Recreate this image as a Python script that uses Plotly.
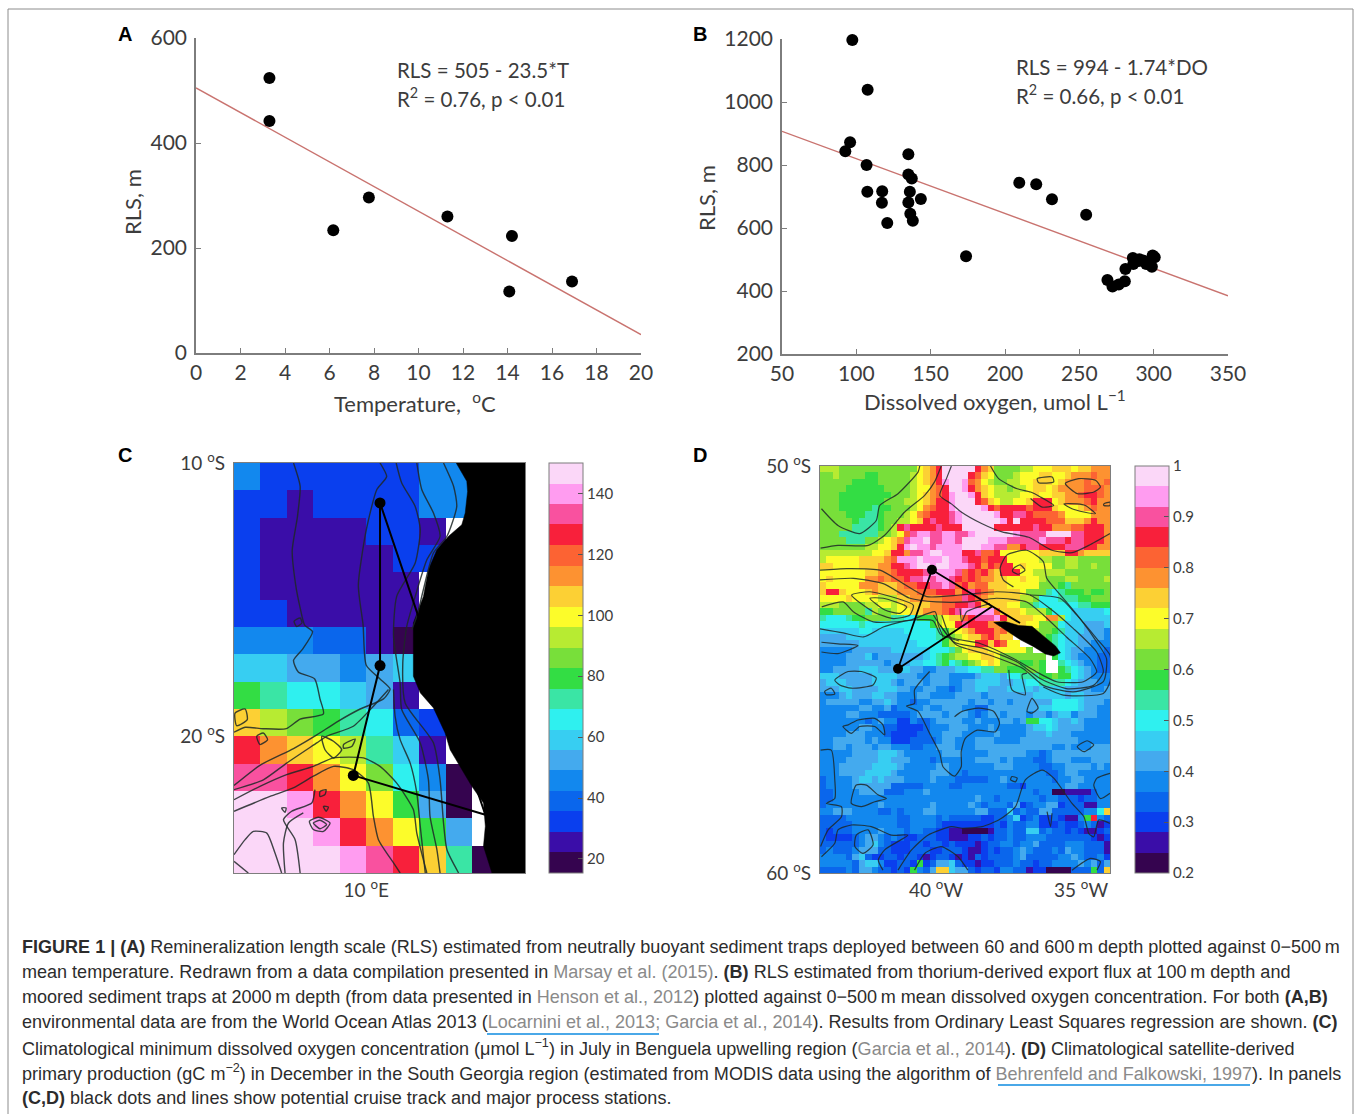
import plotly.graph_objects as go

W, H = 1358, 1114

# ---------- Panel A / B data ----------
temp_T = [3.3, 3.3, 6.17, 7.77, 11.3, 14.2, 14.08, 16.9]
temp_RLS = [524, 442, 234, 296, 260, 223, 117, 136]
fit_T = [0, 20]
fit_T_RLS = [505, 35]

do_DO = [97.3, 107.6, 95.8, 92.6, 106.9, 107.4, 117.4, 117.2, 120.8, 135, 135, 137.3, 136, 135, 136.3, 138, 143.4,
         173.8, 209.6, 221, 231.6, 254.6, 268.9, 272.3, 276.5, 280.6, 281, 286, 286.3, 290, 290.4, 292.9, 295,
         297.3, 298.8, 299.3, 300.7]
do_RLS = [1197, 1039, 872, 844, 800, 715, 717, 680, 616, 834, 770, 757, 715, 681, 645, 623, 692,
          510, 744, 739, 691, 642, 435, 414, 421, 431, 470, 505, 486, 495, 501, 497, 486,
          493, 477, 513, 507]
fit_DO = [50, 350]
fit_DO_RLS = [907, 385]

# ---------- colour levels (a = lowest ... t = highest) ----------
LEVEL_KEYS = "abcdefghijklmnopqrst"
LEVEL_COLORS = ["#35044F", "#3A0DA8", "#0A3FEE", "#0A66EC", "#1288EE", "#44AAEE", "#37CEF2", "#2FF0EF", "#3AE5A5", "#33DD44",
                "#78DF3A", "#B7EB32", "#FCFC2A", "#FCD034", "#FD9231", "#FC6333", "#F8203B", "#F9519F", "#FF9CF0", "#FBD7F8"]

# ---------- Panel C: oxygen on a 1 degree grid, one letter per cell, '.' = no data ----------
C_ROWS = ["eccccccee..", "ccbccccee..", "cbbbbccb...", "cbbbbbcc...", "cbbbbbb....", "ccbbbbb....",
          "eeeddba....", "ggffefg....", "jihhgfb....", "nlkjihdc...", "qonmligb...", "rrqomkhea..",
          "ttsqomjfa..", "tttsqomjf..", "ttttsrqnia."]
C_TICKS = [20, 40, 60, 80, 100, 120, 140]
C_LAND_LON = [13.40, 13.80, 13.83, 13.74, 13.61, 13.11, 12.67, 12.35, 12.16, 11.78, 11.78, 12.04, 12.54, 12.98, 13.17,
              13.55, 13.99, 14.43, 14.50, 14.43, 14.75, 16, 16]
C_LAND_LAT = [-10, -10.67, -11.04, -11.83, -12.26, -12.68, -13.17, -13.90, -14.88, -15.85, -17.80, -18.41, -18.96, -19.88,
              -20.49, -21.10, -21.83, -22.44, -23.29, -24.02, -25, -25, -10]
C_TRACK_LON = [10.52, 10.52, 9.51, 14.50, 10.52]
C_TRACK_LAT = [-11.46, -17.41, -21.43, -22.87, -11.46]
C_STATION_LON = [10.52, 10.52, 9.51]
C_STATION_LAT = [-11.46, -17.41, -21.43]
C_CONTOURS = [
    ([7.25, 7.5, 7.4, 7.2, 7.33, 7.5, 7.67, 7.97, 7.6, 7.25, 7.43, 8.05, 8.25, 8.38, 7.5, 6.98, 6.1, 5.42, 5],
     [-10, -10.85, -11.95, -13.2, -14.45, -15.3, -15.93, -16.17, -16.8, -17.22, -17.65, -17.9, -18.63, -19.18, -19.37, -19.72, -19.72, -19.67, -19.85]),
    ([10.52, 10.77, 10.4, 10, 9.7, 9.88, 10, 10.52, 10.9, 10.65, 9.77, 8.88, 8.13, 7.25, 5.98, 5],
     [-10, -10.5, -10.97, -12.45, -14.47, -15.93, -17.4, -17.9, -18.27, -18.63, -19, -19.48, -19.95, -20.45, -21.06, -21.8]),
    ([11.13, 11.34, 11.85, 12.04, 11.85, 11.15, 11.03, 11.28, 11.34, 12.04, 12.35, 12.41, 12.67, 12.79],
     [-10, -10.73, -11.59, -12.44, -13.66, -14.88, -16.34, -18.05, -19.02, -20.24, -21.59, -22.93, -24.15, -25]),
    ([11.91, 12.1, 12.54, 12.79, 12.29, 11.85, 11.53, 11.38, 11.47, 12.54, 12.79, 12.92, 13.05, 13.49],
     [-10, -10.98, -11.83, -12.68, -13.54, -14.88, -15.98, -17.32, -18.78, -20.24, -21.59, -23.17, -24.15, -25]),
    ([12.92, 13.3, 13.42, 13.05, 12.54, 12.16, 11.91, 11.72],
     [-10, -10.85, -11.59, -12.68, -13.29, -14.63, -15.61, -16.1]),
    ([11.03, 11.09, 11.28, 11.66, 11.91, 12.04, 12.23], [-18.29, -19.27, -20.12, -20.98, -22.07, -23.29, -25]),
    ([10.84, 10.27, 9.51, 8.5, 8.13, 6.99, 6.11, 5], [-18.29, -18.9, -19.63, -20, -20.24, -20.98, -21.59, -21.95]),
    ([5, 5.98, 6.99, 8, 8.76, 9.89, 10.52, 11.15, 11.78, 11.91, 12.29],
     [-22.32, -21.83, -21.4, -21.1, -20.79, -20.79, -21.1, -21.71, -22.68, -23.54, -25]),
    ([5, 6.36, 7.24, 8, 8.76, 9.51, 10.08, 10.27, 10.46, 11.03, 11.28],
     [-22.74, -22.2, -21.89, -21.46, -21.1, -21.22, -21.71, -22.93, -23.78, -24.63, -25]),
    ([7.5, 7.31, 6.87, 7.18, 7.94, 8.06], [-25, -23.78, -23.05, -22.74, -22.44, -21.95]),
    ([6.93, 6.87, 7.06, 7.62], [-25, -23.9, -23.17, -22.8]),
    ([5, 5.42, 5.73, 6.24, 6.55, 6.8], [-24.33, -23.78, -23.48, -23.54, -24.27, -25]),
    ([5, 5.54], [-24.57, -25]),
    ([5.04, 5.42, 5.5, 5.1, 5.04], [-19.15, -19, -19.39, -19.61, -19.15]),
    ([5.86, 6.11, 6.27, 5.98, 5.86], [-20, -19.88, -20.12, -20.3, -20]),
    ([8.32, 8.76, 9.07, 8.76, 8.44, 8.32], [-20, -20.18, -20.49, -20.79, -20.49, -20]),
    ([9.14, 9.58, 9.45, 9.14, 9.14], [-20.3, -20.1, -20.37, -20.43, -20.3]),
    ([7.85, 8.19, 8.63, 8.38, 8, 7.85], [-23.11, -22.96, -23.17, -23.48, -23.41, -23.11]),
    ([8, 8.25, 8.5, 8.25, 8], [-23.17, -23.07, -23.23, -23.38, -23.17]),
    ([7.27, 7.5, 7.57, 7.37, 7.27], [-15.79, -15.67, -15.85, -15.98, -15.79]),
    ([8.25, 8.48, 8.44, 8.25, 8.25], [-22.02, -21.95, -22.13, -22.2, -22.02]),
    ([8.38, 8.57, 8.48, 8.38], [-22.56, -22.59, -22.74, -22.56]),
    ([6.8, 6.97, 6.93, 6.8], [-22.62, -22.62, -22.78, -22.62]),
]

# ---------- Panel D: production, one letter per cell, '.' = no data ----------
D_ROWS = [
    "lllkk kkkkk kkkkk mnoqt ttttq onkkk kllmm mnnnm nnooo",
    "kklkk kkjjk kkkkl mnoqt tttqp nmkkk lmmmn nmmno oopoo",
    "kkkkk jjjjk kkkkl mnoqs ttspo mlkkl lmmnn nmnoo opoop",
    "kkkkj jjjjj kkkkl mmopq ttsqo nmllk llmnn mnooo opppo",
    "kkkjj jjjjj jkkkl mnopq sttsq nmlll lmmnm mnnoo pqqpo",
    "kkkjj jjjjj kkkll mnoqq stttq pnmll mmnqq qmnoo opqoo",
    "kkkjj jjjij jkkkl mopqq stttt sqpqq qqpqq qnmmm nopoo",
    "kkkkj jjiij kkklm opqqq rsttt ttsqq rrqpp ppomm mmooo",
    "kkkkk jiiij kkllm nqrqq rsttt tttsq tqqqq pppnn noqoo",
    "kkkkk iiiij klqrq qqqrq qqttt ttqqq qqqrq qooop pqqqo",
    "kkkii iiiik klmpr ssrrs srrst ttttt srrrr ttttr rqqqo",
    "kkkki iikkl mnors strrs srttt tsssr rrrrs rrrqr rqqqo",
    "kkkkk kkllm mnqst ssrss ssttt ssrro oqrrq qqqrr rqqoo",
    "lllll lllmm nqqor rstts ssqqr ppqmm mmmmn nnnqq onnnn",
    "lmmmm mnnnn opsss tssst ssrqq pqqqm mmmml lkkll kkkkk",
    "nnmmm mnnno oqqrs ttstt sssrq oqpqq mnmmm mkkll kklkk",
    "mmmmm mmnno opqqq qrsss srpqp qonqq qmmll lllkk kkkkk",
    "mnmmm mmoop oppqr rsrss rqpqp oonnm mnmml kkkll kkkkl",
    "nmmmm mooon nnopp qqrrs rpqop pnnnm mmmmk kkjik kkkkk",
    "nqqnm mmnon nnooo pppqq qoqrq ponnn nmkkk ihijj jkjjk",
    "mmmmn mmmml llnno oooop pprqp onnnn nllkh hhiii jjkkk",
    "lllkk kkllm mlmnn nnoop pqqrq nnnnm mkkih hhhhh iijjj",
    "jjkkk kkilk klmmn nooop qrsss sspnn nmlll jhhhg ggggh",
    "ihhhi jjkkk kiihh jjjlm nnpqr rrsqn nnnmm oolhg ggggg",
    "hhhhh hihhh hhhhh hhjlm mqrqq qoonn nnmmk kkhgg gfffg",
    "ggggg ghhgg ggghh hhhij lmnoq qqopn nmmlk kjigg gfffe",
    "ffffg ggggg ggggh hhhij klmnn pqonn .mmkk jihgg ffffe",
    "fffff fgggg ggggg hhhhj lmmmq qnqpm m..lk jihgg ffeee",
    "eeeee fffff fgggg gghhh ikmnn nmmmm mmk.. jihgf feeed",
    "eeeef ffgef fffff fghij kllmm nnmkk kkkkk .jhgf eeedd",
    "eeeef fffff efffg ghhij hijkl mnmkk kjjkj ..ihg feedd",
    "eefff fgggf ffggf feeff fgghh iikkj jjkkj ..jih gfedd",
    "gggff fffgg ggfff eefff eeeef gggfh hiiij jkjjh gfeee",
    "fgggf fffgg gfeff fefff eeffg gggff gghhi iiihg fffee",
    "fffgg ffffg ggffe effee deffg gfffg gggfg gggff ffeef",
    "eeefg fffgg ffeee ffeee effff effff fffgg gggfg gffff",
    "effff feeff gfeed eefff fffef feffe fffff fhhhh gfffe",
    "eeeee effee fdeee efeef ffeed dffff ffffg ghhhh gffee",
    "eeeef feeed dddde ffffe fffed effef ffeff efgge fffee",
    "eeeee eedef eecce ddeff ffeef eeeff efjjh hgffg feeee",
    "eeeee effee ddccc cdeee fffee efeee eefgg hgfff feeee",
    "eeeef ffeee dcccc ddeef ffeee eefee eefff gfffe eeeee",
    "eefff ffefe ecccd dddef feeef ffeee effff fffff eeeee",
    "eeffe fffef feeed deeff feeef fffff fffff feefe eefff",
    "eeeee ffffg ggfee eeeef ffeee effff ffeed effff fffff",
    "eeeef ffffg gfffe eedee eeeef fffef eeedd efffe eefff",
    "eeeff fffgg ggfee eeeff eeeee eefff eeeed deeff ffefe",
    "eeeff ffggg gfeee eefff eedee eeeee eeeee ddeff eeeee",
    "deeee fggfg fffee eefee edddd deefe eeeee edeef feeee",
    "deeee fffff fdddd deeee ddeee eeeed dceee eeeff eeeee",
    "ddeee effff dddee efeee eeeee eeeee eeede eaabb bbdee",
    "ddeee eeeee eeeee eeeee eeeef eedee eeeed eeddd cddee",
    "deeee eeeef eeeee eefee eeefe deeed fcdee ffcdd dbbee",
    "eefff eeeed dedee effee eeeef fdddg deddf fdddd deehn",
    "dddde eeeee eedde eeede ddddd ccdde gcdec cdcbb ejqed",
    "ddddd eeeee eedde eeedc ccccc ccdce ddeec ccdcc dedbc",
    "dcddd eeeef eeede eddcc bbaaa abdde ddggd eddcd cbbcd",
    "dcccc deffe dedcc dddcc bbbcc dcdde ddeee ddddd ddcbc",
    "ddddd defge dcccd dcddc dcccb cddee deefd dddee edddb",
    "deddd efffd dcccd ddccd ddcbb cdcdd efedd dedfe edddb",
    "eeeed fgdcc ddcdd cbcdd cbcbd cdddd efddd ddeef eddec",
    "eeeee dfgge ccddc jcdff gdccb ccddd eddcd deeee fefdf",
    "dddde dffed dcdcj edfnn gffdc ddcee ddbcc aaaad ddjdn",
]
D_TICKS = [0.2, 0.3, 0.4, 0.5, 0.6, 0.7, 0.8, 0.9, 1.0]
D_TICK_TEXT = ["0.2", "0.3", "0.4", "0.5", "0.6", "0.7", "0.8", "0.9", "1"]
D_LAND_LON = [-38.01, -37.61, -37.15, -36.69, -36.34, -35.88, -35.71, -35.94, -36.23, -36.63, -37.09, -37.49, -37.84, -38.01]
D_LAND_LAT = [-53.84, -53.82, -53.92, -53.94, -54.15, -54.42, -54.59, -54.67, -54.62, -54.44, -54.27, -54.08, -53.92, -53.84]
D_TRACK_LON = [-38.08, -41.31, -40.14, -37.1]
D_TRACK_LAT = [-53.46, -54.98, -52.55, -53.86]
D_STATION_LON = [-41.31, -40.14]
D_STATION_LAT = [-54.98, -52.55]
D_CONTOURS = [
    ([-43.95, -43.38, -42.63, -42.06, -41.94, -41.31, -40.62, -40.56], [-51.05, -51.46, -51.66, -51.34, -50.97, -50.68, -50.15, -50]),
    ([-43.98, -43.38, -42.34, -41.77, -41.08, -40.39, -40.05, -39.82], [-52.02, -51.95, -51.95, -51.7, -51.13, -50.72, -50.39, -50]),
    ([-39.47, -39.64, -39.87, -39.47, -39.13, -38.41, -37.72, -36.8, -36, -35.31, -34.73, -34],
     [-50, -50.31, -50.72, -50.93, -51.13, -51.42, -51.62, -51.75, -52.07, -52.13, -51.95, -51.66]),
    ([-38.12, -37.84, -37.2, -36.74, -36.4, -35.94, -36.34, -36.74], [-50, -50.31, -50.56, -50.64, -50.76, -50.97, -51.01, -50.8]),
    ([-36.51, -35.99, -35.94, -36.46, -36.51], [-50.31, -50.27, -50.39, -50.41, -50.31]),
    ([-35.54, -35.08, -34.5, -34.33, -34.56, -35.13, -35.54], [-50.43, -50.31, -50.35, -50.52, -50.64, -50.68, -50.43]),
    ([-35.59, -35.13, -34.85, -34.5, -34.9, -35.31, -35.59], [-50.93, -50.93, -50.97, -51.17, -51.13, -51.05, -50.93]),
    ([-34.21, -34, -34, -34.21, -34.21], [-50.93, -50.89, -50.97, -50.97, -50.93]),
    ([-37.33, -37.68, -37.79, -37.56, -36.87, -36.3, -36.18, -35.61, -35.03, -34.46, -34.12, -34.23, -35.27, -36.3, -36.99, -38.14, -39.29, -39.86],
     [-52.97, -52.8, -52.52, -52.19, -52.07, -52.35, -52.76, -53.25, -53.75, -54.32, -54.73, -55.3, -55.55, -55.39, -54.98, -54.65, -54.4, -53.91]),
    ([-44, -43.08, -41.93, -41.13, -40.32, -39.17, -37.91, -36.76, -36.07, -35.27, -34.46, -34.23, -34.57, -35.5, -36.41, -37.22, -38.37, -39.4, -39.8],
     [-52.56, -52.52, -52.56, -52.89, -53.21, -53.17, -53.09, -53.17, -53.5, -53.99, -54.57, -55.06, -55.39, -55.47, -55.22, -54.81, -54.48, -54.32, -53.66]),
    ([-44, -42.85, -41.82, -40.9, -39.98, -38.94, -37.91, -36.87, -36.3, -35.5, -34.69, -34.46, -34.92, -35.84, -36.53, -37.33, -38.48, -39.52, -40.09],
     [-52.8, -52.76, -52.89, -53.25, -53.34, -53.34, -53.25, -53.34, -53.66, -54.2, -54.73, -55.06, -55.3, -55.3, -55.06, -54.73, -54.36, -54.2, -53.66]),
    ([-42.91, -42.28, -41.36, -40.78, -40.9, -41.47, -42.16, -42.91], [-53.17, -53.09, -53.25, -53.42, -53.66, -53.75, -53.58, -53.17]),
    ([-42.28, -41.82, -41.01, -41.24, -41.76, -42.28], [-53.25, -53.25, -53.46, -53.62, -53.54, -53.25]),
    ([-43.94, -43.2, -42.85, -42.16, -40.9, -40.03, -39.92, -39.75], [-53.46, -53.34, -53.58, -53.83, -53.79, -53.58, -53.91, -54.2]),
    ([-44, -43.2, -42.5, -41.8, -41, -40.1, -39.85, -39.2], [-54, -54.1, -54.2, -53.95, -53.8, -53.8, -54.13, -54.3]),
    ([-43.95, -43.38, -42.69, -43.38, -43.95], [-54.33, -54.37, -54.41, -54.61, -54.57]),
    ([-39.17, -39.11, -38.94, -38.14], [-53.5, -53.83, -53.58, -53.38]),
    ([-37.33, -37.1, -36.93, -37.16, -37.36, -37.33], [-52.52, -52.43, -52.56, -52.66, -52.59, -52.52]),
    ([-36.76, -35.72, -35.15, -34.46, -34, -34, -34.23, -35.61, -36.3], [-53.17, -53.25, -53.66, -54.24, -54.65, -55.3, -55.59, -55.63, -55.43]),
    ([-43.49, -43.03, -42.57, -42.06, -42.17, -42.92, -43.32, -43.49], [-55.26, -55.05, -55.05, -55.21, -55.38, -55.46, -55.38, -55.26]),
    ([-43.84, -43.61, -43.49, -43.78, -43.84], [-55.54, -55.46, -55.6, -55.62, -55.54]),
    ([-40.22, -40.74, -40.74, -41.02, -40.62, -40.22, -39.87, -39.76, -39.36, -39.13, -39.13, -38.99, -38.58, -37.95, -37.81, -38.01, -38.53, -39.1, -39.36],
     [-55.05, -55.5, -55.83, -55.9, -56.03, -56.57, -57.06, -57.39, -57.62, -57.39, -57.02, -56.69, -56.49, -56.53, -56.32, -56.03, -55.95, -56.03, -56.16]),
    ([-43.03, -42.69, -42.11, -41.83, -41.77, -42.11, -42.63, -42.92, -43.21, -43.03], [-56.36, -56.24, -56.2, -56.36, -56.61, -56.4, -56.4, -56.57, -56.4, -56.36]),
    ([-43.98, -43.61, -43.49, -43.49, -43.78, -43.26, -43.26, -43.72, -43.98], [-56.98, -56.98, -57.71, -58.17, -58.29, -58.37, -58.62, -58.94, -59.35]),
    ([-42.75, -42.4, -42, -41.71, -42.11, -42.57, -42.92, -42.75], [-57.84, -57.84, -58.08, -58.17, -58.25, -58.37, -58.29, -57.84]),
    ([-43.95, -43.49, -43.38, -42.92, -42.23, -41.54, -40.97, -41.77, -41.99, -41.83], [-59.6, -59.27, -58.94, -58.82, -58.86, -59.07, -59.07, -59.43, -59.68, -59.93]),
    ([-42.75, -42.34, -42.17, -42.52, -42.8, -42.75], [-59.07, -58.94, -59.31, -59.52, -59.35, -59.07]),
    ([-41.31, -40.85, -40.28, -39.47, -39.1, -38.41, -37.84, -37.26, -36.92, -36.34, -35.94, -35.31, -34.9, -34.73, -34.56, -34.39, -34],
     [-59.93, -59.44, -59.07, -58.86, -58.9, -58.86, -58.7, -58.37, -57.71, -57.47, -57.67, -58.29, -58.62, -59.03, -59.11, -58.7, -58.78]),
    ([-40.74, -40.39, -39.82, -39.24, -38.9], [-59.93, -59.52, -59.35, -59.6, -59.93]),
    ([-37.38, -37.2, -37.26, -37.43, -37.38], [-57.63, -57.67, -57.76, -57.71, -57.63]),
    ([-36.86, -36.69, -36.48, -36.69, -36.86], [-56.03, -55.71, -55.95, -56.07, -56.03]),
    ([-35.13, -34.79, -34.56, -34.9, -35.13], [-56.9, -56.75, -56.85, -57.02, -56.9]),
    ([-34, -34.45, -34.56, -34.33, -34], [-57.55, -57.67, -57.84, -58.17, -58.04]),
    ([-36.17, -36.05, -36], [-58.49, -58.86, -58.53]),
    ([-37.49, -37.38, -36.92, -37.03, -36.86], [-55.01, -55.5, -55.62, -55.13, -55.09]),
    ([-35.31, -34.67, -34.33, -34.45], [-59.93, -59.64, -59.72, -59.93]),
]

GRAY_REF = "#8a8a8a"
def ref(s):
    return f'<span style="color:{GRAY_REF}">{s}</span>'

CAPTION = [
    "<b>FIGURE 1 | (A)</b> Remineralization length scale (RLS) estimated from neutrally buoyant sediment traps deployed between 60 and 600\u2009m depth plotted against 0\u2212500\u2009m",
    "mean temperature. Redrawn from a data compilation presented in " + ref("Marsay et al. (2015)") + ". <b>(B)</b> RLS estimated from thorium-derived export flux at 100\u2009m depth and",
    "moored sediment traps at 2000\u2009m depth (from data presented in " + ref("Henson et al., 2012") + ") plotted against 0\u2212500\u2009m mean dissolved oxygen concentration. For both <b>(A,B)</b>",
    "environmental data are from the World Ocean Atlas 2013 (" + ref("Locarnini et al., 2013;") + " " + ref("Garcia et al., 2014") + "). Results from Ordinary Least Squares regression are shown. <b>(C)</b>",
    "Climatological minimum dissolved oxygen concentration (\u03bcmol L<sup>\u22121</sup>) in July in Benguela upwelling region (" + ref("Garcia et al., 2014") + "). <b>(D)</b> Climatological satellite-derived",
    "primary production (gC m<sup>\u22122</sup>) in December in the South Georgia region (estimated from MODIS data using the algorithm of " + ref("Behrenfeld and Falkowski, 1997") + "). In panels",
    "<b>(C,D)</b> black dots and lines show potential cruise track and major process stations.",
]
CAPTION_Y = [947, 972, 997, 1022, 1047, 1072, 1098]


def fx(px):
    return px / W


def fy(py):
    return 1 - py / H


def decode(rows, low, step):
    out = []
    for row in rows:
        row = row.replace(" ", "")
        out.append([None if ch == "." else low + step * (LEVEL_KEYS.index(ch) + 0.5) for ch in row])
    return out


n = len(LEVEL_COLORS)
SCALE = []
for i, c in enumerate(LEVEL_COLORS):
    SCALE += [[i / n, c], [(i + 1) / n, c]]

TICK_FONT = dict(family="Lato, 'Open Sans', sans-serif", size=21, color="#3c3c3c")
TITLE_FONT = dict(family="Lato, 'Open Sans', sans-serif", size=22, color="#3c3c3c")
EQ_FONT = dict(family="Lato, 'Open Sans', sans-serif", size=20.5, color="#3c3c3c")
AXC = "#7d7d7d"
LINE = "#c9736f"
CONT = "rgba(30,40,40,0.85)"

fig = go.Figure()

# scatter panels
fig.add_trace(go.Scatter(x=fit_T, y=fit_T_RLS, mode="lines", line=dict(color=LINE, width=1.4), xaxis="x", yaxis="y", hoverinfo="skip"))
fig.add_trace(go.Scatter(x=temp_T, y=temp_RLS, mode="markers", marker=dict(color="black", size=12), xaxis="x", yaxis="y", cliponaxis=False))
fig.add_trace(go.Scatter(x=fit_DO, y=fit_DO_RLS, mode="lines", line=dict(color=LINE, width=1.4), xaxis="x2", yaxis="y2", hoverinfo="skip"))
fig.add_trace(go.Scatter(x=do_DO, y=do_RLS, mode="markers", marker=dict(color="black", size=12), xaxis="x2", yaxis="y2", cliponaxis=False))


def cbar(px_x, py_mid, px_len, ticks, text=None):
    d = dict(x=fx(px_x), xanchor="left", y=fy(py_mid), yanchor="middle", lenmode="pixels", len=px_len,
             thicknessmode="pixels", thickness=34, xpad=0, ypad=0, outlinecolor=AXC, outlinewidth=1,
             ticks="inside", ticklen=5, tickcolor="#555555", tickvals=ticks,
             tickfont=dict(family="Lato, sans-serif", size=15, color="#3c3c3c"))
    if text:
        d["ticktext"] = text
    return d


# panel C
fig.add_trace(go.Heatmap(z=decode(C_ROWS, 15.4, 6.73), x0=5.5, dx=1, y0=-10.5, dy=-1, colorscale=SCALE, zmin=15.4, zmax=150,
                         colorbar=cbar(549, 668, 410, C_TICKS), xaxis="x3", yaxis="y3", hoverongaps=False))
fig.add_trace(go.Scatter(x=C_LAND_LON, y=C_LAND_LAT, mode="lines", fill="toself", fillcolor="black", line=dict(color="black", width=0.5),
                         xaxis="x3", yaxis="y3", hoverinfo="skip"))
for lon, lat in C_CONTOURS:
    fig.add_trace(go.Scatter(x=lon, y=lat, mode="lines", line=dict(color=CONT, width=1.4, shape="spline", smoothing=0.6), xaxis="x3", yaxis="y3", hoverinfo="skip"))
fig.add_trace(go.Scatter(x=C_TRACK_LON, y=C_TRACK_LAT, mode="lines", line=dict(color="black", width=2), xaxis="x3", yaxis="y3", hoverinfo="skip"))
fig.add_trace(go.Scatter(x=C_STATION_LON, y=C_STATION_LAT, mode="markers", marker=dict(color="black", size=11), xaxis="x3", yaxis="y3"))

# panel D
fig.add_trace(go.Heatmap(z=decode(D_ROWS, 0.2, 0.04), x0=-44 + 10 / 45 / 2, dx=10 / 45, y0=-50 - 10 / 63 / 2, dy=-10 / 63,
                         colorscale=SCALE, zmin=0.2, zmax=1.0,
                         colorbar=cbar(1135, 669.5, 407, D_TICKS, D_TICK_TEXT), xaxis="x4", yaxis="y4", hoverongaps=False))
fig.add_trace(go.Scatter(x=D_LAND_LON, y=D_LAND_LAT, mode="lines", fill="toself", fillcolor="black", line=dict(color="black", width=0.5),
                         xaxis="x4", yaxis="y4", hoverinfo="skip"))
for lon, lat in D_CONTOURS:
    fig.add_trace(go.Scatter(x=lon, y=lat, mode="lines", line=dict(color=CONT, width=1.2, shape="spline", smoothing=0.6), xaxis="x4", yaxis="y4", hoverinfo="skip"))
fig.add_trace(go.Scatter(x=D_TRACK_LON, y=D_TRACK_LAT, mode="lines", line=dict(color="black", width=1.8), xaxis="x4", yaxis="y4", hoverinfo="skip"))
fig.add_trace(go.Scatter(x=D_STATION_LON, y=D_STATION_LAT, mode="markers", marker=dict(color="black", size=10), xaxis="x4", yaxis="y4"))


def plain_axis(px0, px1, rng, dtick, **kw):
    return dict(domain=[px0, px1], range=rng, dtick=dtick, showgrid=False, zeroline=False, showline=True, linecolor=AXC, linewidth=1.5,
                ticks="inside", ticklen=5, tickcolor=AXC, tickfont=TICK_FONT, **kw)


def map_axis(px0, px1, rng, vals, text, **kw):
    return dict(domain=[px0, px1], range=rng, tickvals=vals, ticktext=text, showgrid=False, zeroline=False, showline=True, mirror=True,
                linecolor=AXC, linewidth=1.2, ticks="", tickfont=dict(family="Lato, sans-serif", size=19, color="#3c3c3c"), **kw)


layout = dict(
    width=W, height=H, margin=dict(l=0, r=0, t=0, b=0, pad=0, autoexpand=False), paper_bgcolor="white", plot_bgcolor="white", showlegend=False,
    xaxis=plain_axis(fx(196), fx(641), [0, 20], 2, anchor="y", ticklabelstandoff=0),
    yaxis=plain_axis(fy(353), fy(38), [0, 600], 200, anchor="x", ticklabelstandoff=3),
    xaxis2=plain_axis(fx(782), fx(1228), [50, 350], 50, anchor="y2", ticklabelstandoff=0),
    yaxis2=plain_axis(fy(354), fy(39), [200, 1200], 200, anchor="x2", ticklabelstandoff=3),
    xaxis3=map_axis(fx(234), fx(525), [5, 16], [10], ["10 <sup>o</sup>E"], anchor="y3"),
    yaxis3=map_axis(fy(873), fy(463), [-25, -10], [-10, -20], ["10 <sup>o</sup>S", "20 <sup>o</sup>S"], anchor="x3", ticklabelstandoff=4),
    xaxis4=map_axis(fx(820), fx(1110), [-44, -34], [-40, -35], ["40 <sup>o</sup>W", "35 <sup>o</sup>W"], anchor="y4"),
    yaxis4=map_axis(fy(873), fy(466), [-60, -50], [-50, -60], ["50 <sup>o</sup>S", "60 <sup>o</sup>S"], anchor="x4", ticklabelstandoff=4),
)
fig.update_layout(**layout)

ann = []
for text, x, y in [("A", 116, 34), ("B", 691, 34), ("C", 116, 455), ("D", 691, 455)]:
    ann.append(dict(text=f"<b>{text}</b>", x=fx(x), y=fy(y), xref="paper", yref="paper", xanchor="left", yanchor="middle", showarrow=False,
                    font=dict(family="Liberation Sans", size=20, color="black")))
for text, x, y in [("RLS = 505 - 23.5*T", 395, 70), ("R<sup>2</sup> = 0.76, p &lt; 0.01", 395, 97),
                   ("RLS = 994 - 1.74*DO", 1014, 67), ("R<sup>2</sup> = 0.66, p &lt; 0.01", 1014, 94)]:
    ann.append(dict(text=text, x=fx(x), y=fy(y), xref="paper", yref="paper", xanchor="left", yanchor="middle", showarrow=False, font=EQ_FONT))
for text, x, y, angle in [("Temperature,  <sup>o</sup>C", 415, 402, 0), ("Dissolved oxygen, umol L<sup>\u22121</sup>", 995, 400, 0),
                          ("RLS, m", 133, 202, -90), ("RLS, m", 706, 198, -90)]:
    ann.append(dict(text=text, x=fx(x), y=fy(y), xref="paper", yref="paper", xanchor="center", yanchor="middle", showarrow=False,
                    textangle=angle, font=TITLE_FONT))
for text, y in zip(CAPTION, CAPTION_Y):
    ann.append(dict(text=text, x=fx(20), y=fy(y), xref="paper", yref="paper", xanchor="left", yanchor="middle", showarrow=False,
                    align="left", font=dict(family="Liberation Sans", size=18.05, color="#2c2c2c")))
fig.update_layout(annotations=ann)

shapes = []
for x0, y0, x1, y1, col, w in [(8, 9, 1353, 9, "#8c8c8c", 1), (8, 9, 8, 1114, "#8c8c8c", 1), (1353, 9, 1353, 1114, "#8c8c8c", 1),
                               (487, 1034, 659, 1034, "#4aa8e8", 2), (998, 1085, 1250, 1085, "#4aa8e8", 2)]:
    shapes.append(dict(type="line", xref="paper", yref="paper", x0=fx(x0), y0=fy(y0), x1=fx(x1), y1=fy(y1), line=dict(color=col, width=w)))
fig.update_layout(shapes=shapes)

fig.write_html("out.html", config={"displayModeBar": False}, post_script="document.body.style.margin='0';")
